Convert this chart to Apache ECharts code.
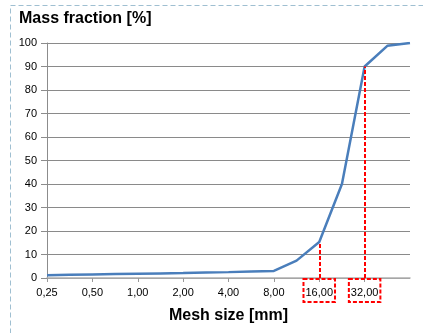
<!DOCTYPE html>
<html><head><meta charset="utf-8">
<script src="https://cdn.jsdelivr.net/npm/echarts@6/dist/echarts.min.js"></script>
<style>html,body{margin:0;padding:0;background:#fff}#c{width:423px;height:333px}</style>
</head><body><div id="c"></div>
<script>
// Tick labels (every other point position carries a label)
const tickLabels = ['0,25','0,50','1,00','2,00','4,00','8,00','16,00','32,00'];
// Cumulative mass fraction at each plotted point (half steps along the mesh axis)
const massFraction = [1.2,1.35,1.5,1.65,1.8,1.95,2.1,2.3,2.5,2.75,3.0,7.4,15.3,40,90,98.8,100];
// Highlighted mesh sizes (point index)
const highlight = [12, 14];

const seriesData = massFraction.map((v,i)=>[i,v]);
const chart = echarts.init(document.getElementById('c'));
const font = 'Liberation Sans, Arial, sans-serif';
chart.setOption({
  animation:false,
  title:{text:'Mass fraction [%]',left:19,top:11,padding:0,textStyle:{fontFamily:font,fontSize:16,fontWeight:'bold',color:'#000'}},
  graphic:[{type:'rect',shape:{x:10.5,y:5.5,width:440,height:360},style:{fill:'none',stroke:'#9fbfd1',lineWidth:1,lineDash:[5,3]},silent:true}],
  grid:{left:47,right:13,top:43,bottom:55},
  xAxis:{type:'value',min:0,max:16,interval:2,
    name:'Mesh size [mm]',nameLocation:'middle',nameGap:30,
    nameTextStyle:{fontFamily:font,fontSize:16,fontWeight:'bold',color:'#000'},
    axisLine:{lineStyle:{color:'#b0b0b0',width:1.5}},
    axisTick:{customValues:[0,2,4,6,8,10,12,14],length:4,lineStyle:{color:'#9a9a9a'}},
    splitLine:{show:false},
    axisLabel:{customValues:[0,2,4,6,8,10,12,14],margin:1,
      formatter:(v)=>{const lab=tickLabels[v/2];return highlight.includes(v)?'{h|'+lab+'}':'{n|'+lab+'}';},
      rich:{
        n:{fontFamily:font,fontSize:11,color:'#000',padding:[8,2,4,2],borderColor:'transparent',borderWidth:2},
        h:{fontFamily:font,fontSize:11,color:'#000',padding:[8,2,4,2],borderColor:'#ff0000',borderWidth:2,borderType:[4,2]}
      }}
  },
  yAxis:{type:'value',min:0,max:100,interval:10,
    axisLine:{show:true,lineStyle:{color:'#8c8c8c'}},
    axisTick:{show:true,length:6,lineStyle:{color:'#8c8c8c'}},
    splitLine:{lineStyle:{color:'#8a8a8a',width:1}},
    axisLabel:{fontFamily:font,fontSize:11,color:'#000',margin:10}
  },
  series:[{type:'line',data:seriesData,symbol:'none',
    lineStyle:{color:'#4a7ebb',width:2.5},
    markLine:{silent:true,symbol:'none',label:{show:false},
      lineStyle:{color:'#ff0000',type:[4,2],width:2},
      data:highlight.map(i=>[{coord:[i,0]},{coord:[i,massFraction[i]]}])}
  }]
});
</script></body></html>
